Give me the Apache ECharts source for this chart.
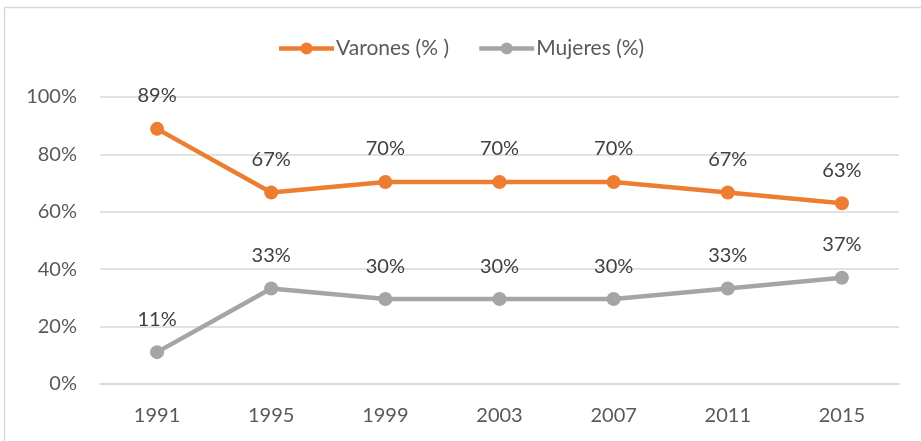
<!DOCTYPE html>
<html><head><meta charset="utf-8">
<script src="https://cdn.jsdelivr.net/npm/echarts@6/dist/echarts.min.js"></script>
<style>html,body{margin:0;padding:0;background:#fff}#c{width:921px;height:441px}</style>
</head><body><div id="c"></div>
<script>
const categories = ['1991','1995','1999','2003','2007','2011','2015'];
const varones = [88.9, 66.7, 70.4, 70.4, 70.4, 66.7, 63.0];
const mujeres = [11.1, 33.3, 29.6, 29.6, 29.6, 33.3, 37.0];
const yTicks = [0, 20, 40, 60, 80, 100];

const chart = echarts.init(document.getElementById('c'));
const font = 'Lato, "Open Sans", sans-serif';
const lbl = {show:true, position:'top', distance:16, fontSize:20, color:'#404040', fontFamily:font,
  formatter: p => Math.round(p.value) + '%'};
chart.setOption({
  animation:false,
  graphic:[{type:'rect', shape:{x:4.5,y:7.5,width:930,height:440}, style:{fill:'none',stroke:'#d9d9d9',lineWidth:1.5}, silent:true}],
  legend:{top:33, left:'center', itemGap:28, itemWidth:55, itemHeight:15, itemStyle:{borderWidth:0},
    lineStyle:{width:4.5},
    textStyle:{fontSize:21, color:'#595959', fontFamily:font, padding:[0,0,0,-3]},
    data:['Varones (% )','Mujeres (%)']},
  grid:{left:100, right:22, top:97, bottom:57},
  xAxis:{type:'category', data:categories, boundaryGap:true,
    axisLine:{lineStyle:{color:'#d9d9d9', width:1.5}}, axisTick:{show:false},
    axisLabel:{fontSize:20, color:'#595959', margin:22, fontFamily:font}},
  yAxis:{type:'value', min:yTicks[0], max:yTicks[yTicks.length-1], interval:20,
    axisLabel:{fontSize:20, color:'#595959', margin:23, fontFamily:font, formatter: v => v + '%'},
    splitLine:{lineStyle:{color:'#d9d9d9', width:1.5}}, axisLine:{show:false}, axisTick:{show:false}},
  series:[
    {name:'Varones (% )', type:'line', data:varones, color:'#ED7D31', symbol:'circle', symbolSize:14,
     lineStyle:{width:4.5}, label:lbl},
    {name:'Mujeres (%)', type:'line', data:mujeres, color:'#A5A5A5', symbol:'circle', symbolSize:14,
     lineStyle:{width:4.5}, label:lbl}
  ]
});
</script></body></html>
